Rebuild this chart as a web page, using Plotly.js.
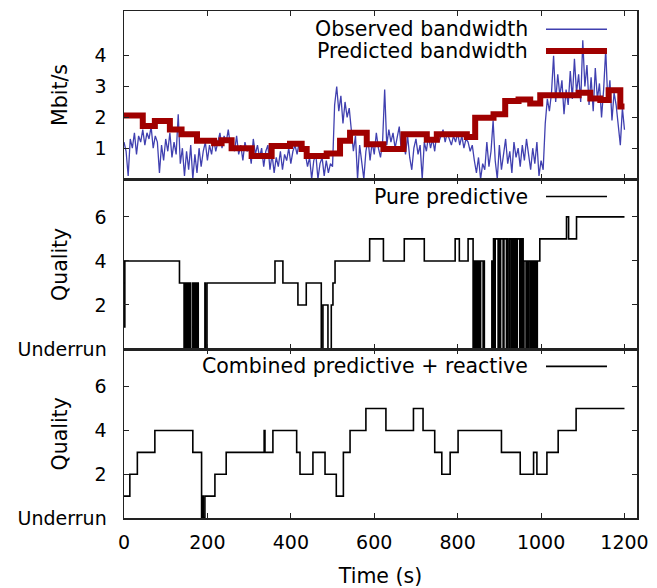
<!DOCTYPE html>
<html><head><meta charset="utf-8">
<script src="https://cdn.plot.ly/plotly-3.0.1.min.js"></script>
<style>html,body{margin:0;padding:0;background:#fff}#chart{width:657px;height:588px}</style>
</head><body><div id="chart"></div>
<script>
// ---- Observed bandwidth (Mbit/s), sampled every 5 s ----
const obsTime = [
0,5,10,15,20,25,30,35,40,45,50,55,60,65,70,75,80,85,90,95,
100,105,110,115,120,125,130,135,140,145,150,155,160,165,170,175,180,185,190,195,
200,205,210,215,220,225,230,235,240,245,250,255,260,265,270,275,280,285,290,295,
300,305,310,315,320,325,330,335,340,345,350,355,360,365,370,375,380,385,390,395,
400,405,410,415,420,425,430,435,440,445,450,455,460,465,470,475,480,485,490,495,
500,505,510,515,520,525,530,535,540,545,550,555,560,565,570,575,580,585,590,595,
600,605,610,615,620,625,630,635,640,645,650,655,660,665,670,675,680,685,690,695,
700,705,710,715,720,725,730,735,740,745,750,755,760,765,770,775,780,785,790,795,
800,805,810,815,820,825,830,835,840,845,850,855,860,865,870,875,880,885,890,895,
900,905,910,915,920,925,930,935,940,945,950,955,960,965,970,975,980,985,990,995,
1000,1005,1010,1015,1020,1025,1030,1035,1040,1045,1050,1055,1060,1065,1070,1075,1080,1085,1090,1095,
1100,1105,1110,1115,1120,1125,1130,1135,1140,1145,1150,1155,1160,1165,1170,1175,1180,1185,1190,1195,
1200];
const obsBandwidth = [
1.2,0.9,0.1,1.3,1.0,1.5,0.8,1.4,1.2,1.6,1.1,1.5,1.3,1.7,1.0,1.4,1.2,0.2,1.1,0.6,
1.3,0.9,1.5,0.7,1.2,0.8,2.1,0.5,1.0,0.1,0.9,0.3,1.1,0.0,0.8,0.2,1.0,0.4,0.9,1.2,
0.6,1.1,0.8,1.3,0.9,1.2,1.5,1.0,1.4,1.2,1.6,1.1,1.3,0.9,1.4,0.8,1.1,0.6,1.2,0.9,
1.0,0.5,1.3,0.8,1.1,0.7,1.0,0.4,0.9,1.1,0.3,0.8,0.2,0.7,0.4,0.9,0.3,0.8,0.6,1.0,
0.5,0.9,1.1,0.8,1.2,0.9,1.1,0.8,0.4,0.7,0.0,0.6,0.8,0.0,0.5,0.7,0.1,0.6,0.2,0.5,
0.4,2.4,3.0,2.2,2.7,1.8,2.5,2.0,2.3,1.6,0.9,1.4,0.0,1.1,0.6,0.0,0.9,1.3,0.6,1.2,
0.8,1.5,1.0,0.7,1.2,2.9,1.1,1.6,1.2,1.5,1.0,1.3,1.7,0.9,1.2,0.8,1.4,0.7,0.3,1.0,
1.3,0.8,1.1,0.0,1.2,0.9,1.4,1.0,1.3,0.9,1.5,1.2,1.4,1.6,1.2,1.5,1.3,1.1,1.4,1.2,
1.5,1.1,1.4,1.0,1.3,1.2,0.9,1.1,0.6,0.2,0.7,0.0,0.5,0.3,1.2,0.4,0.9,1.9,0.6,0.0,
1.1,0.3,0.8,1.3,0.5,0.9,0.2,1.2,0.7,1.0,0.4,1.1,0.6,1.3,0.8,0.3,1.0,0.5,1.2,0.1,
0.6,0.3,1.8,2.6,2.2,2.8,4.0,2.5,3.4,2.7,3.2,2.1,2.9,2.4,3.5,2.6,3.9,2.8,3.4,2.5,
4.5,3.0,3.7,2.4,3.3,2.2,3.6,2.6,3.1,2.0,2.9,4.2,2.5,3.2,1.9,2.8,2.4,1.7,1.1,2.3,
1.6];

// ---- Predicted bandwidth (step changes) ----
const predTime  = [0,45,74,110,138,175,216,234,258,306,354,398,426,438,486,518,542,582,622,670,726,750,822,842,886,914,946,974,998,1090,1118,1142,1162,1190,1200];
const predValue = [2.06,1.72,1.88,1.61,1.45,1.24,1.16,1.26,1.0,0.75,1.07,1.14,0.97,0.75,0.83,1.24,1.5,1.13,0.97,1.45,1.27,1.45,1.36,1.99,2.1,2.53,2.58,2.45,2.72,2.8,2.61,2.56,2.88,2.35,2.35];

// ---- Pure predictive quality (0 = underrun) ----
const pureTime = [0,2,133,144,146,148,150,152,154,156,158,160,165,166,168,170,173,174,176,178,194,195,199,
362,381,417,437,473,477,489,497,501,506,589,622,672,720,794,804,825,
837,839,841,843,845,847,849,851,853,855,861,863,864,882,884,886,888,890,897,899,901,903,909,911,917,919,921,925,929,931,933,935,937,939,941,943,949,951,953,955,957,959,964,966,969,971,975,977,980,982,985,987,989,991,
997,1061,1066,1085,1200];
const pureQuality = [1,4,3,0,3,0,3,0,3,0,3,0,3,0,3,0,3,0,3,0,3,0,3,
4,3,2,3,0,2,0,2,3,4,5,4,5,4,5,4,5,
0,4,0,4,0,4,0,4,0,4,0,4,0,4,0,5,0,5,0,5,0,5,0,5,0,5,0,5,0,5,0,5,0,5,0,5,0,5,0,5,0,4,0,4,0,4,0,4,0,4,0,4,0,4,
5,6,5,6,6];

// ---- Combined predictive + reactive quality ----
const combTime = [0,14,32,74,165,186,189,190,194,218,245,336,338,357,414,422,453,482,509,526,542,580,628,694,717,745,762,782,801,905,950,982,990,1014,1041,1084,1200];
const combQuality = [1,2,3,4,3,0,1,0,1,2,3,4,3,4,3,2,3,2,1,3,4,5,4,5,4,3,2,3,4,3,2,3,2,3,4,5,5];

const xTicks = [0,200,400,600,800,1000,1200];
const bwTicks = [1,2,3,4];
const qTicks = [0,2,4,6];
const qTickText = ['Underrun','2','4','6'];

const FONT = 'DejaVu Sans';
const AX = '#222';

const traces = [
  {x: obsTime, y: obsBandwidth, xaxis:'x', yaxis:'y', type:'scatter', mode:'lines',
   line:{color:'#4040b0', width:1.3}, name:'Observed bandwidth', showlegend:false},
  {x: predTime, y: predValue, xaxis:'x', yaxis:'y', type:'scatter', mode:'lines',
   line:{color:'#a00000', width:6, shape:'hv'}, name:'Predicted bandwidth', showlegend:false},
  {x: pureTime, y: pureQuality, xaxis:'x2', yaxis:'y2', type:'scatter', mode:'lines',
   line:{color:'#000', width:1.6, shape:'hv'}, name:'Pure predictive', showlegend:false},
  {x: combTime, y: combQuality, xaxis:'x3', yaxis:'y3', type:'scatter', mode:'lines',
   line:{color:'#000', width:1.6, shape:'hv'}, name:'Combined predictive + reactive', showlegend:false}
];

function xax(anchor, labels){
  const a = {anchor: anchor, range:[0,1230], tickvals:xTicks, ticks:'inside', ticklen:5, tickwidth:1,
    tickcolor:AX, mirror:'ticks', showline:true, linecolor:AX, linewidth:1.5, showgrid:false, zeroline:false,
    showticklabels:labels, ticklabelstandoff:7, tickfont:{family:FONT, size:19, color:'#000'}};
  if (anchor !== 'y3') a.matches = 'x3';
  return a;
}
function yax(anchor, dom, range, tv, tt){
  const a = {anchor: anchor, domain:dom, range:range, tickvals:tv, ticks:'inside', ticklen:5, tickwidth:1,
    tickcolor:AX, mirror:'ticks', showline:true, linecolor:AX, linewidth:1.5, showgrid:false, zeroline:false,
    ticklabelstandoff:12, tickfont:{family:FONT, size:19, color:'#000'}};
  if (tt) a.ticktext = tt;
  return a;
}

const xa3 = xax('y3', true);
xa3.title = {text:'Time (s)', font:{family:FONT, size:20.5, color:'#000'}, standoff:16};
delete xa3.matches;

const legendLines = [
  {y:0.964, color:'#4040b0', w:1.3},
  {y:0.921, color:'#a00000', w:6},
  {y:0.634, color:'#000', w:1.6},
  {y:0.299, color:'#000', w:1.6}
];
const legendTexts = ['Observed bandwidth','Predicted bandwidth','Pure predictive','Combined predictive + reactive'];

const shapes = legendLines.map(l => ({type:'line', xref:'paper', yref:'paper', x0:0.8226, x1:0.9415,
  y0:l.y, y1:l.y, line:{color:l.color, width:l.w}}));

const annotations = legendTexts.map((t,i) => ({text:t, xref:'paper', yref:'paper', x:0.7914, y:legendLines[i].y,
  xanchor:'right', yanchor:'middle', showarrow:false, font:{family:FONT, size:20.5, color:'#000'}}));

const yTitles = [['Mbit/s',(1+0.6686)/2],['Quality',(0.3333+0.6686)/2],['Quality',0.3333/2]];
yTitles.forEach(([t,y]) => annotations.push({text:t, xref:'paper', yref:'paper', x:-0.1248, y:y,
  xanchor:'center', yanchor:'middle', textangle:-90, showarrow:false, font:{family:FONT, size:20.5, color:'#000'}}));

const layout = {
  width:657, height:588,
  margin:{l:124, r:20, t:11, b:70},
  paper_bgcolor:'#fff', plot_bgcolor:'#fff',
  font:{family:FONT, color:'#000'},
  showlegend:false,
  xaxis: xax('y', false),
  xaxis2: xax('y2', false),
  xaxis3: xa3,
  yaxis: yax('x', [0.6686,1], [0,5.45], bwTicks),
  yaxis2: yax('x2', [0.3333,0.6686], [0,7.72], qTicks, qTickText),
  yaxis3: yax('x3', [0,0.3333], [0,7.72], qTicks, qTickText),
  shapes: shapes,
  annotations: annotations
};

Plotly.newPlot('chart', traces, layout, {staticPlot:true, displayModeBar:false});
</script>
</body></html>
